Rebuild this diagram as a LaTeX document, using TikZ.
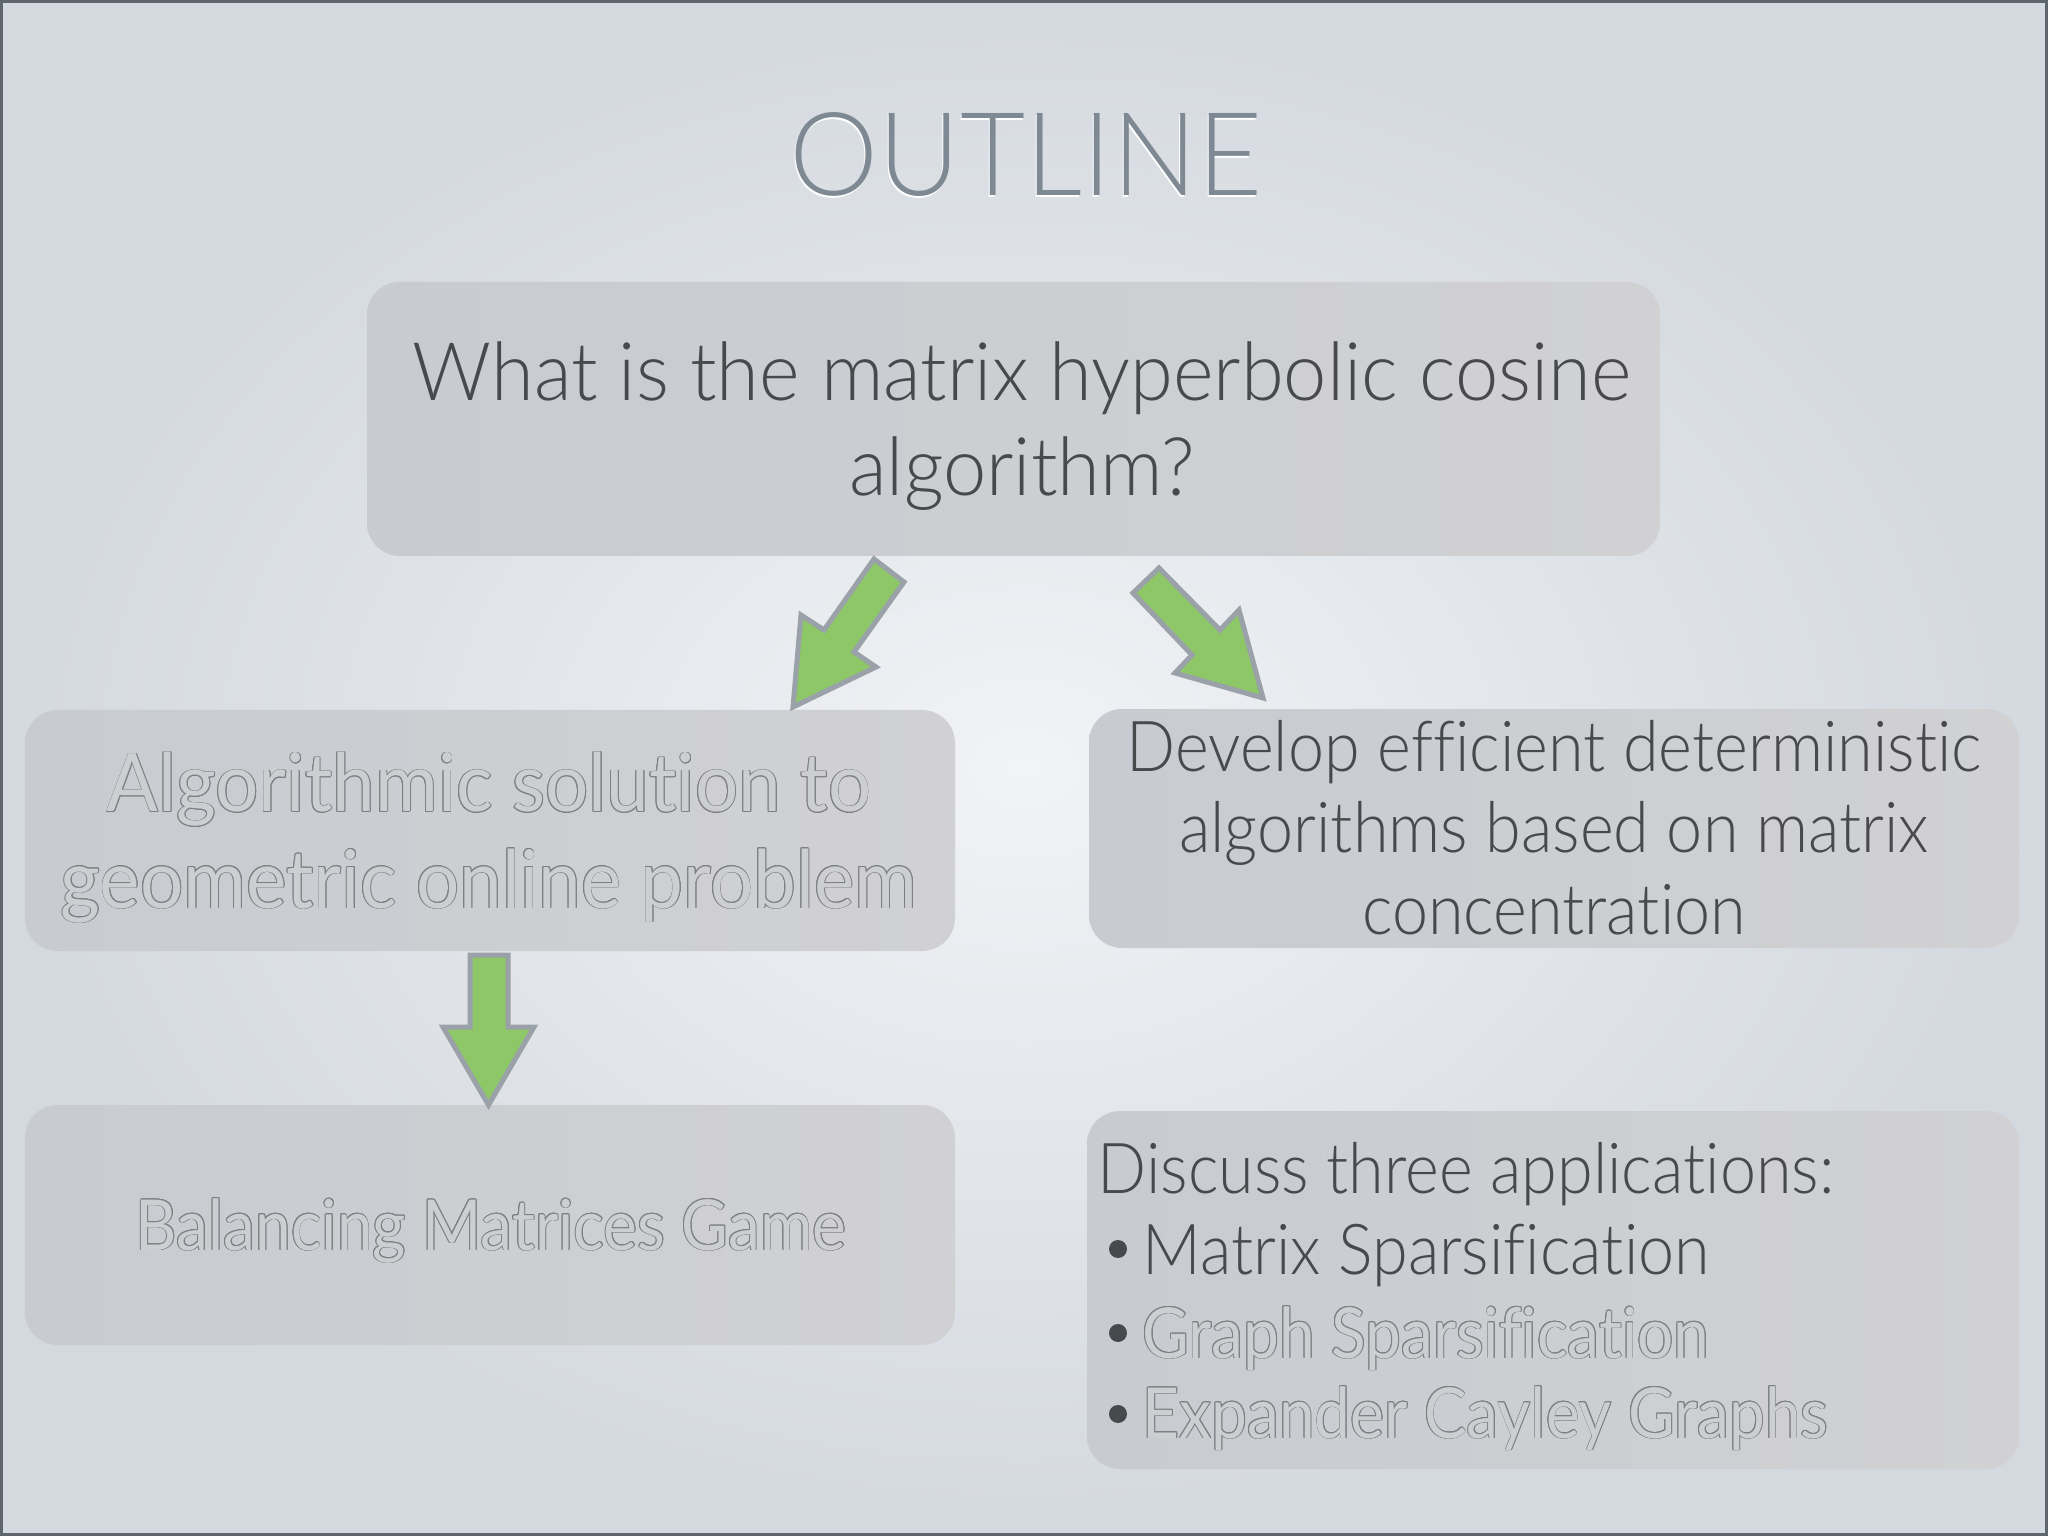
\documentclass[tikz,border=0pt]{standalone}
\usepackage{fontspec}
\setmainfont{Lato}[Ligatures={NoCommon}]
\newfontfamily\lightA{Lato Light}[FakeStretch=0.96, Ligatures={NoCommon}]
\newfontfamily\lightB{Lato Light}[FakeStretch=0.92, Ligatures={NoCommon}]
\newfontfamily\lightT{Lato Light}[FakeStretch=0.97, Ligatures={NoCommon}]
\newfontfamily\regA{Lato}[FakeStretch=0.945, Ligatures={NoCommon}]
\newfontfamily\regB{Lato}[FakeStretch=0.91, Ligatures={NoCommon}]
\usetikzlibrary{calc}
\definecolor{bgin}{HTML}{F1F3F6}
\definecolor{bgout}{HTML}{D4D9DF}
\definecolor{bordercol}{HTML}{5E666E}
\definecolor{boxL}{HTML}{C8CBD1}
\definecolor{boxR}{HTML}{D1D1D3}
\definecolor{boxfill}{HTML}{CDCED1}
\definecolor{darktext}{HTML}{48494D}
\definecolor{titlecol}{HTML}{7E8993}
\definecolor{outlcol}{HTML}{7F8084}
\definecolor{arrowfill}{HTML}{8DC768}
\definecolor{arrowline}{HTML}{9AA1A9}
\tikzset{
  box/.style={rounded corners=0.33cm, left color=boxL, right color=boxR, draw=none, inner sep=0pt},
  darkline/.style={text=darktext, anchor=base, inner sep=0pt},
  strokecopy/.style={text=outlcol, anchor=base, inner sep=0pt},
  fillcopy/.style={text=boxfill, anchor=base, inner sep=0pt},
  bigfont/.style={font=\lightA\fontsize{23}{27}\selectfont},
  midfont/.style={font=\lightB\fontsize{20}{24}\selectfont},
  hbigfont/.style={font=\regA\fontsize{23}{27}\selectfont},
  hmidfont/.style={font=\regB\fontsize{20}{24}\selectfont},
  titlefont/.style={font=\lightT\fontsize{33}{36}\selectfont},
  blockarrow/.style={fill=arrowfill, draw=arrowline, line width=0.05cm, line join=miter},
  bulletdot/.style={circle, fill=darktext, inner sep=0pt, minimum size=0.18cm}
}
\newcommand\hollowtext[4]{%
  \foreach \ang in {0,30,...,330}{%
    \node[strokecopy,#4] (#1-\ang) at ($(#2)+(\ang:0.009)$) {#3};}
  \node[fillcopy,#4] (#1) at (#2) {#3};}
\begin{document}
\begin{tikzpicture}
\useasboundingbox (0,0) rectangle (20.48,-15.36);
\shade[inner color=bgin, outer color=bgout] (0,0) rectangle (20.48,-15.36);
\draw[bordercol, line width=0.03cm] (0.015,-0.015) rectangle (20.465,-15.345);

% title
\node[text=white, anchor=base, inner sep=0pt, titlefont] (titleshadow) at (10.25,-1.975) {OUTLINE};
\node[text=titlecol, anchor=base, inner sep=0pt, titlefont] (title) at (10.26,-1.96) {OUTLINE};

% boxes
\node[box, minimum width=12.93cm, minimum height=2.74cm] (q) at (10.135,-4.19) {};
\node[box, minimum width=9.30cm, minimum height=2.41cm] (alg) at (4.90,-8.305) {};
\node[box, minimum width=9.30cm, minimum height=2.39cm] (dev) at (15.54,-8.285) {};
\node[box, minimum width=9.30cm, minimum height=2.40cm] (bal) at (4.90,-12.25) {};
\node[box, minimum width=9.32cm, minimum height=3.58cm] (disc) at (15.53,-12.90) {};

% box 1 text
\node[darkline, bigfont] (q1) at (10.22,-4.01) {What is the matrix hyperbolic cosine};
\node[darkline, bigfont] (q2) at (10.22,-4.96) {algorithm?};

% box 2 text (hollow)
\hollowtext{alg1}{4.89,-8.12}{Algorithmic solution to}{hbigfont}
\hollowtext{alg2}{4.89,-9.08}{geometric online problem}{hbigfont}

% box 3 text
\node[darkline, midfont] (dev1) at (15.54,-7.71) {Develop efficient deterministic};
\node[darkline, midfont] (dev2) at (15.54,-8.53) {algorithms based on matrix};
\node[darkline, midfont] (dev3) at (15.54,-9.34) {concentration};

% box 4 text
\hollowtext{bal1}{4.91,-12.50}{Balancing Matrices Game}{hmidfont}

% box 5 text
\node[darkline, midfont, anchor=base west] (d0) at (10.97,-11.93) {Discuss three applications:};
\node[bulletdot] (b1) at (11.18,-12.49) {};
\node[bulletdot] (b2) at (11.18,-13.33) {};
\node[bulletdot] (b3) at (11.18,-14.14) {};
\node[darkline, midfont, anchor=base west] (d1) at (11.42,-12.74) {Matrix Sparsification};
\hollowtext{d2}{11.42,-13.58}{Graph Sparsification}{hmidfont, anchor=base west}
\hollowtext{d3}{11.42,-14.38}{Expander Cayley Graphs}{hmidfont, anchor=base west}

% arrows
\draw[blockarrow] (9.04,-5.82) -- (8.54,-6.52) -- (8.76,-6.67) -- (7.93,-7.07) -- (8.01,-6.15) -- (8.24,-6.30) -- (8.74,-5.59) -- cycle;
\draw[blockarrow] (11.33,-5.93) -- (11.92,-6.55) -- (11.75,-6.73) -- (12.63,-6.98) -- (12.39,-6.10) -- (12.20,-6.30) -- (11.59,-5.68) -- cycle;
\draw[blockarrow] (4.70,-9.55) -- (4.70,-10.27) -- (4.43,-10.27) -- (4.885,-11.05) -- (5.34,-10.27) -- (5.08,-10.27) -- (5.08,-9.55) -- cycle;
\end{tikzpicture}
\end{document}
